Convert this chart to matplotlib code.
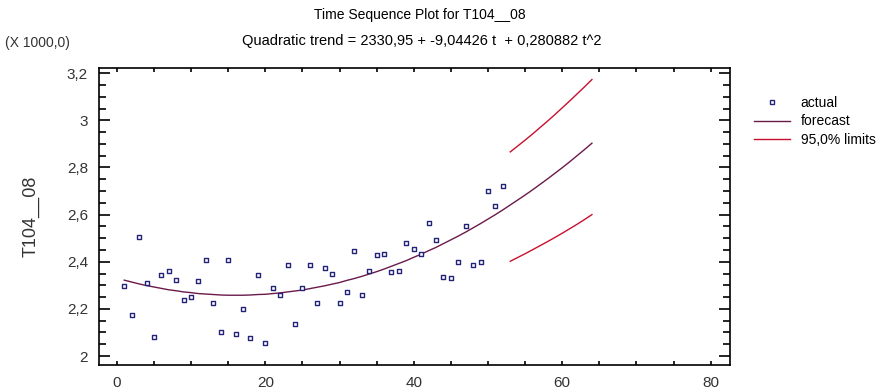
import numpy as np
import matplotlib.pyplot as plt
from matplotlib.lines import Line2D
from matplotlib.ticker import MultipleLocator, FuncFormatter

plt.rcParams["font.family"] = ["Liberation Sans", "DejaVu Sans"]

# Observed series (values in thousands, as on the axis)
t_actual = list(range(1, 53))
actual = [
    2.297, 2.172, 2.505, 2.311, 2.080, 2.342, 2.362, 2.322, 2.237, 2.250,
    2.317, 2.407, 2.225, 2.100, 2.407, 2.095, 2.198, 2.075, 2.342, 2.055,
    2.290, 2.257, 2.388, 2.134, 2.290, 2.388, 2.225, 2.375, 2.348, 2.225,
    2.270, 2.447, 2.257, 2.362, 2.427, 2.434, 2.355, 2.362, 2.479, 2.454,
    2.434, 2.564, 2.492, 2.335, 2.330, 2.400, 2.552, 2.388, 2.400, 2.702,
    2.637, 2.721,
]

# Fitted trend / forecast (t = 1..64)
t_trend = list(range(1, 65))
trend = [
    2.322, 2.314, 2.306, 2.299, 2.293, 2.287, 2.281, 2.277, 2.272, 2.269,
    2.265, 2.263, 2.261, 2.259, 2.258, 2.258, 2.258, 2.259, 2.261, 2.262,
    2.265, 2.268, 2.272, 2.276, 2.280, 2.286, 2.292, 2.298, 2.305, 2.312,
    2.321, 2.329, 2.338, 2.348, 2.358, 2.369, 2.381, 2.393, 2.405, 2.419,
    2.432, 2.447, 2.461, 2.477, 2.493, 2.509, 2.526, 2.544, 2.562, 2.581,
    2.600, 2.620, 2.641, 2.662, 2.683, 2.705, 2.728, 2.751, 2.775, 2.799,
    2.824, 2.850, 2.876, 2.903,
]

# 95% forecast limits (t = 53..64)
t_limits = list(range(53, 65))
upper = [2.866, 2.891, 2.916, 2.942, 2.969, 2.996, 3.024, 3.053, 3.082, 3.112, 3.142, 3.173]
lower = [2.402, 2.418, 2.434, 2.451, 2.468, 2.485, 2.503, 2.521, 2.540, 2.559, 2.579, 2.600]

trend_color = "#6a1a4a"
limit_color = "#c8102e"
point_color = "#23237a"

fig = plt.figure(figsize=(8.88, 3.92), dpi=100)
ax = fig.add_axes([99 / 888, 1 - 365 / 392, (730 - 99) / 888, (365 - 68) / 392])

ax.plot(t_trend, trend, color=trend_color, linewidth=1.0)
ax.plot(t_limits, upper, color=limit_color, linewidth=1.0)
ax.plot(t_limits, lower, color=limit_color, linewidth=1.0)
ax.scatter(t_actual, actual, marker="s", s=11, facecolors="white",
           edgecolors=point_color, linewidths=1.0, zorder=3)

ax.set_xlim(-2.4, 82.6)
ax.set_ylim(1.962, 3.222)

ax.xaxis.set_major_locator(MultipleLocator(20))
ax.xaxis.set_minor_locator(MultipleLocator(5))
ax.yaxis.set_major_locator(MultipleLocator(0.2))
ax.yaxis.set_minor_locator(MultipleLocator(0.05))
ax.yaxis.set_major_formatter(FuncFormatter(lambda v, p: f"{v:g}".replace(".", ",")))

ax.tick_params(axis="x", which="both", direction="in", top=True, length=3,
               width=1.2, labelsize=11, pad=8)
ax.tick_params(axis="y", which="major", direction="in", right=True, length=8,
               width=1.2, labelsize=11, pad=8)
ax.tick_params(axis="y", which="minor", direction="in", right=True, length=5,
               width=1.2)
for s in ax.spines.values():
    s.set_linewidth(1.2)
ax.tick_params(labelcolor="#333333")

fig.text(0.473, 1 - 15 / 392, "Time Sequence Plot for T104__08", ha="center",
         va="center", fontsize=10)
fig.text(0.475, 1 - 41 / 392,
         "Quadratic trend = 2330,95 + -9,04426 t  + 0,280882 t^2",
         ha="center", va="center", fontsize=10.5)
fig.text(5 / 888, 1 - 43 / 392, "(X 1000,0)", ha="left", va="center",
         fontsize=10, color="#333333")
fig.text(31 / 888, 1 - 216 / 392, "T104__08", rotation=90, ha="center",
         va="center", fontsize=13, color="#333333")

handles = [
    Line2D([], [], marker="s", linestyle="none", markersize=3.5,
           markerfacecolor="white", markeredgecolor=point_color),
    Line2D([], [], color=trend_color, linewidth=1.0),
    Line2D([], [], color=limit_color, linewidth=1.0),
]
fig.legend(handles, ["actual", "forecast", "95,0% limits"], loc="upper left",
           bbox_to_anchor=(748 / 888, 1 - 90 / 392), frameon=False,
           fontsize=10, handlelength=2.6, handletextpad=0.8, labelspacing=0.35,
           borderaxespad=0)

fig.savefig("out.png", dpi=100)
